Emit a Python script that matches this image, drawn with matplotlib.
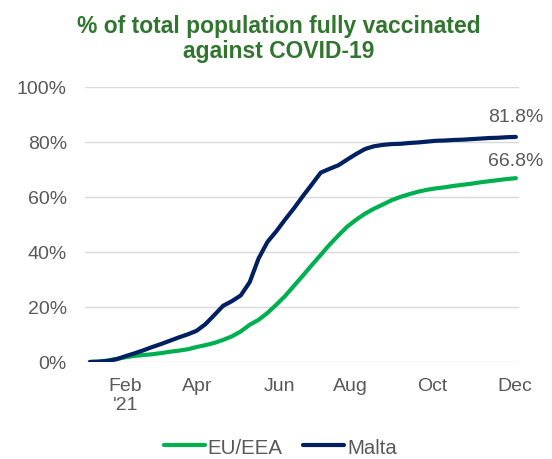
import matplotlib
matplotlib.use("Agg")
import matplotlib.pyplot as plt
from matplotlib.ticker import FuncFormatter

plt.rcParams['font.family'] = ['Liberation Sans', 'DejaVu Sans']

weeks = list(range(49))
eu_eea = [0, 0.1, 0.5, 1.1, 1.7, 2.2, 2.5, 2.8, 3.2, 3.7, 4.1, 4.6, 5.4, 6.1, 6.9, 8.0,
          9.3, 11.1, 13.5, 15.3, 17.8, 20.8, 24.0, 27.7, 31.4, 35.2, 38.9, 42.6, 46.0,
          49.2, 51.7, 53.9, 55.7, 57.2, 58.8, 60.0, 61.0, 61.9, 62.6, 63.1, 63.5, 64.0,
          64.4, 64.8, 65.3, 65.7, 66.1, 66.5, 66.8]
malta = [0, 0.1, 0.4, 1.0, 2.1, 3.1, 4.2, 5.4, 6.5, 7.7, 8.9, 10.0, 11.3, 13.7, 17.0,
         20.4, 22.1, 24.2, 29.0, 37.6, 43.6, 47.5, 51.8, 55.9, 60.3, 64.5, 68.8, 70.2,
         71.5, 73.6, 75.6, 77.4, 78.4, 78.9, 79.2, 79.3, 79.6, 79.8, 80.1, 80.4, 80.5,
         80.7, 80.8, 81.0, 81.2, 81.4, 81.5, 81.7, 81.8]
tick_pos = [4, 12.1, 21.3, 29.4, 38.6, 47.9]
tick_labels = ["Feb\n'21", "Apr", "Jun", "Aug", "Oct", "Dec"]
y_ticks = [0, 20, 40, 60, 80, 100]

GREEN = "#00B050"
NAVY = "#002060"
GRAY = "#595959"

fig = plt.figure(figsize=(5.52, 4.6), dpi=100)
ax = fig.add_axes([0.154, 0.211, 0.786, 0.598])

ax.plot(weeks, eu_eea, color=GREEN, lw=3, label="EU/EEA", solid_capstyle='round')
ax.plot(weeks, malta, color=NAVY, lw=3, label="Malta", solid_capstyle='round')

ax.set_xlim(-0.56, 48.34)
ax.set_ylim(0, 100)
ax.set_yticks(y_ticks)
ax.yaxis.set_major_formatter(FuncFormatter(lambda v, p: f"{v:.0f}%"))
ax.set_xticks(tick_pos)
ax.set_xticklabels(tick_labels, linespacing=1.1)
ax.tick_params(axis='both', length=0, labelsize=14, labelcolor=GRAY)
ax.tick_params(axis='x', pad=11)
ax.tick_params(axis='y', pad=13)
ax.grid(axis='y', color="#D9D9D9", lw=1)
ax.set_axisbelow(True)
for s in ax.spines.values():
    s.set_visible(False)

ax.annotate(f"{malta[-1]:.1f}%", (weeks[-1], malta[-1]), xytext=(0, 8.5),
            textcoords='offset points', ha='center', va='bottom', fontsize=14, color=GRAY)
ax.annotate(f"{eu_eea[-1]:.1f}%", (weeks[-1], eu_eea[-1]), xytext=(0, 6.5),
            textcoords='offset points', ha='center', va='bottom', fontsize=14, color=GRAY)

fig.suptitle("% of total population fully vaccinated\nagainst COVID-19", x=0.505, y=0.968,
             fontsize=16.5, fontweight='bold', color="#31752F", linespacing=1.1)

leg = fig.legend(loc='center', bbox_to_anchor=(0.508, 0.026), ncol=2, frameon=False,
                 fontsize=14.7, handlelength=2.0, handletextpad=0.15, columnspacing=1.0,
                 borderaxespad=0, borderpad=0)
for t in leg.get_texts():
    t.set_color(GRAY)

fig.savefig("out.png", dpi=100)
